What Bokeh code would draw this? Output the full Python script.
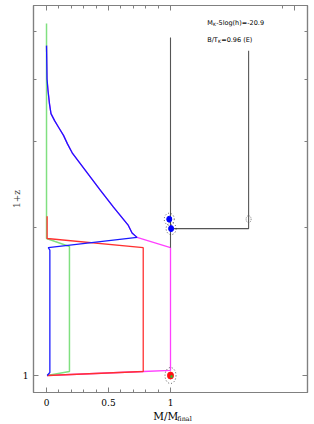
from bokeh.plotting import figure
from bokeh.layouts import column
from bokeh.models import Range1d, FixedTicker, LinearAxis, LogAxis, Label, BasicTickFormatter, CustomJSTickFormatter
from bokeh.embed import file_html
from bokeh.resources import INLINE

# ---- data ----
# mass fraction M/M_final vs 1+z
magenta_m = [0.0, 0.004, 0.012, 0.024, 0.036, 0.065, 0.097, 0.137, 0.169, 0.21, 0.33, 0.435, 0.54, 0.66, 0.69, 0.73, 1.0, 1.0, 0.78, 0.005]
magenta_z1 = [4.69, 4.01, 3.80, 3.57, 3.41, 3.30, 3.20, 3.08, 2.96, 2.83, 2.58, 2.38, 2.20, 2.02, 1.95, 1.91, 1.82, 1.024, 1.019, 1.0]

blue_m = [0.0, 0.004, 0.012, 0.024, 0.036, 0.065, 0.097, 0.137, 0.169, 0.21, 0.33, 0.435, 0.54, 0.66, 0.69, 0.73, 0.014, 0.027, 0.027, 0.005]
blue_z1 = [4.69, 4.01, 3.80, 3.57, 3.41, 3.30, 3.20, 3.08, 2.96, 2.83, 2.58, 2.38, 2.20, 2.02, 1.95, 1.91, 1.82, 1.80, 1.014, 1.0]

green_m = [0.0, 0.0, 0.185, 0.185, 0.005]
green_z1 = [5.20, 1.90, 1.83, 1.019, 1.0]

red_m = [0.005, 0.005, 0.78, 0.78, 0.005]
red_z1 = [2.11, 1.90, 1.82, 1.019, 1.0]

# merger tree
main_x = [1.0, 1.0]
main_z1 = [4.87, 1.82]
branch_x = [1.0, 1.63, 1.63]
branch_z1 = [1.99, 1.99, 4.58]

# galaxies on the tree
blue_gal_x = [0.99, 1.005]
blue_gal_z1 = [2.08, 1.99]
red_gal_x = [1.0]
red_gal_z1 = [1.0]
green_gal_x = [1.008]
green_gal_z1 = [0.995]
empty_gal_x = [1.63]
empty_gal_z1 = [2.08]

x_major = [0, 0.5, 1]
x_minor = [0.1, 0.2, 0.3, 0.4, 0.6, 0.7, 0.8, 0.9]
top_major = [0, 0.5, 1, 2]
top_minor = [0.1, 0.2, 0.3, 0.4, 0.6, 0.7, 0.8, 0.9, 1.9]
y_major = [1]
y_minor = [2, 3, 4, 5]

info1 = "-5log(h)=-20.9"
info2 = "=0.96  (E)"

GRAY = "#808080"
TREE = "#555555"
W = 312

p = figure(width=W, height=408, output_backend="svg", toolbar_location=None,
           y_axis_type="log",
           x_range=Range1d(-0.105, 2.105), y_range=Range1d(0.9235, 5.66),
           min_border_left=33, min_border_right=5, min_border_top=5, min_border_bottom=16)
p.grid.visible = False
p.outline_line_color = GRAY
p.outline_line_width = 1.2
p.background_fill_color = "white"
p.border_fill_color = "white"

def style_axis(ax, major, minor, labels=True):
    ax.ticker = FixedTicker(ticks=major, minor_ticks=minor)
    ax.axis_line_color = GRAY
    ax.axis_line_width = 1.2
    ax.major_tick_line_color = GRAY
    ax.minor_tick_line_color = GRAY
    ax.major_tick_in = 5
    ax.major_tick_out = 0
    ax.minor_tick_in = 3
    ax.minor_tick_out = 0
    ax.major_label_text_font = "DejaVu Serif"
    ax.major_label_text_font_size = "9px"
    ax.major_label_text_color = "black"
    if not labels:
        ax.formatter = CustomJSTickFormatter(code="return ''")
        ax.major_label_standoff = 0

xa = p.xaxis[0]
style_axis(xa, x_major, x_minor)
xa.major_label_overrides = {0: "0", 0.5: "0.5", 1: "1"}
xa.major_label_standoff = 6

ya = p.yaxis[0]
style_axis(ya, y_major, y_minor)
ya.formatter = BasicTickFormatter()
ya.major_label_standoff = 5
ya.axis_label = "1+z"
ya.axis_label_text_font = "DejaVu Serif"
ya.axis_label_text_font_size = "9px"
ya.axis_label_text_font_style = "normal"
ya.axis_label_standoff = -2

top = LinearAxis()
style_axis(top, top_major, top_minor, labels=False)
p.add_layout(top, "above")
right = LogAxis()
style_axis(right, y_major, y_minor, labels=False)
p.add_layout(right, "right")

# lines
lw = 1.3
p.line(magenta_m, magenta_z1, line_color="#ff40ff", line_width=lw)
p.line(green_m, green_z1, line_color="#80e080", line_width=1.5)
p.line(red_m, red_z1, line_color="#ff3030", line_width=lw)
p.line(blue_m, blue_z1, line_color="#1a1aff", line_width=lw)
p.line(main_x, main_z1, line_color=TREE, line_width=1.1)
p.line(branch_x, branch_z1, line_color=TREE, line_width=1.1)

# galaxies
p.ellipse(blue_gal_x, blue_gal_z1, width=10, height=12, width_units="screen", height_units="screen",
          fill_color=None, line_color="#333333", line_dash="1 2", line_width=0.8)
p.ellipse(blue_gal_x, blue_gal_z1, width=5, height=6, width_units="screen", height_units="screen",
          fill_color="#0000ff", line_color="#0000ff")
p.ellipse(empty_gal_x, empty_gal_z1, width=5, height=7, width_units="screen", height_units="screen",
          fill_color=None, line_color="#666666", line_dash="1 1", line_width=0.8)
p.ellipse(red_gal_x, red_gal_z1, width=11, height=16, width_units="screen", height_units="screen",
          fill_color=None, line_color="#333333", line_dash="1 2", line_width=0.8)
p.ellipse(red_gal_x, red_gal_z1, width=6, height=7, width_units="screen", height_units="screen",
          fill_color="#ff1010", line_color="#ff1010")
p.ellipse(green_gal_x, green_gal_z1, width=2.5, height=3, width_units="screen", height_units="screen",
          fill_color="#30c030", line_color=None)

# texts
def lab(fig, x, y, t, size, xo=0, yo=0, font="DejaVu Sans"):
    fig.add_layout(Label(x=x, y=y, text=t, x_offset=xo, y_offset=yo, text_font=font,
                         text_font_size=size, text_baseline="middle", text_align="left",
                         text_color="black"))

lab(p, 1.296, 5.22, "M", "6.5px")
lab(p, 1.296, 5.22, "K", "4.5px", xo=5.8, yo=-2)
lab(p, 1.296, 5.22, info1, "6.5px", xo=9)
lab(p, 1.296, 4.82, "B/T", "6.5px")
lab(p, 1.296, 4.82, "K", "4.5px", xo=10.8, yo=-2)
lab(p, 1.296, 4.82, info2, "6.5px", xo=14)

# x-axis title strip (M/M_final) below the plot
q = figure(width=W, height=14, output_backend="svg", toolbar_location=None,
           x_range=p.x_range, y_range=Range1d(0, 14),
           x_axis_type=None, y_axis_type=None,
           min_border_left=33, min_border_right=5, min_border_top=0, min_border_bottom=0)
q.grid.visible = False
q.outline_line_color = None
q.background_fill_color = "white"
q.border_fill_color = "white"
lab(q, 0.86, 7, "M/M", "10.5px", font="DejaVu Serif")
lab(q, 1.055, 3.5, "final", "6.5px", font="DejaVu Serif")

layout = column(p, q, spacing=0)
open("out.html", "w").write(file_html(layout, INLINE))
